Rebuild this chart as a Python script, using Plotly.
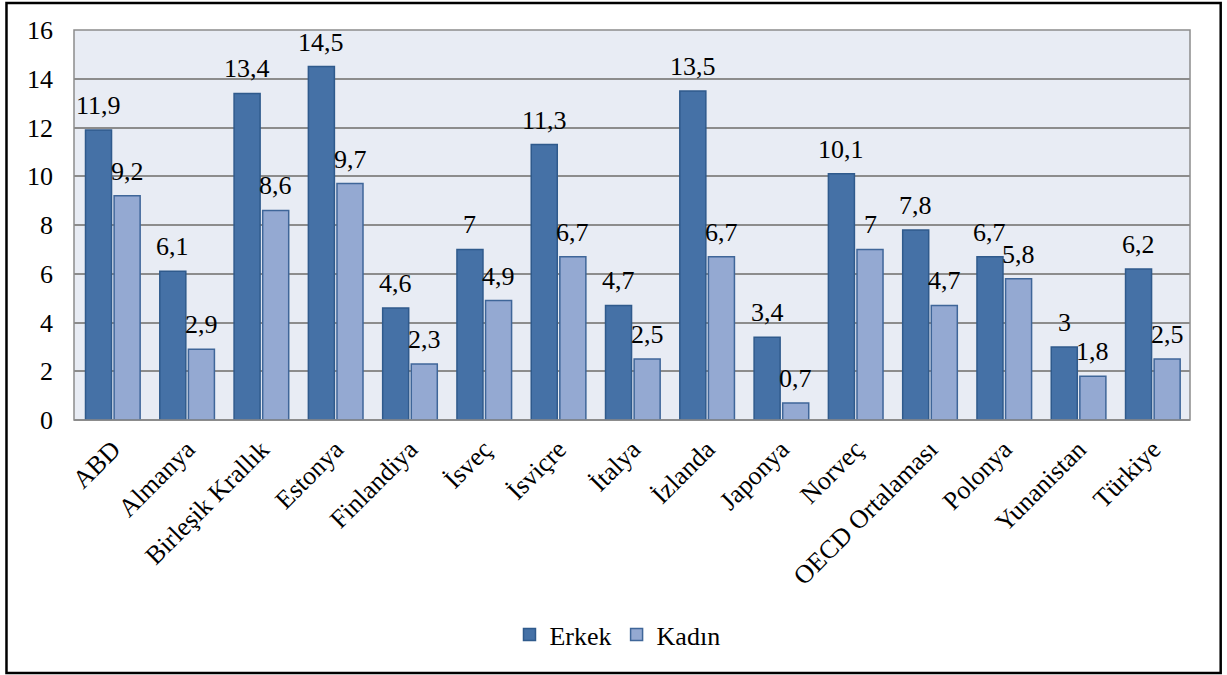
import plotly.graph_objects as go

categories = ["ABD", "Almanya", "Birleşik Krallık", "Estonya", "Finlandiya", "İsveç",
              "İsviçre", "İtalya", "İzlanda", "Japonya", "Norveç", "OECD Ortalaması",
              "Polonya", "Yunanistan", "Türkiye"]
erkek = [11.9, 6.1, 13.4, 14.5, 4.6, 7, 11.3, 4.7, 13.5, 3.4, 10.1, 7.8, 6.7, 3, 6.2]
kadin = [9.2, 2.9, 8.6, 9.7, 2.3, 4.9, 6.7, 2.5, 6.7, 0.7, 7, 4.7, 5.8, 1.8, 2.5]
y_ticks = [0, 2, 4, 6, 8, 10, 12, 14, 16]


def fmt(v):
    s = ("%g" % v)
    return s.replace(".", ",")


FONT = "Liberation Serif"
FS = 26
W, H = 1227, 675
ML, MR, MT, MB = 74, 37, 30, 255
BARGAP = 0.23

fig = go.Figure()
fig.add_trace(go.Bar(
    name="Erkek", x=categories, y=erkek,
    marker=dict(color="#4571A6", line=dict(color="#2F5A8C", width=1.5)),
))
fig.add_trace(go.Bar(
    name="Kadın", x=categories, y=kadin,
    marker=dict(color="#94A9D2", line=dict(color="#3F6699", width=1.5)),
))

# data labels above each bar
cat_px = (W - ML - MR) / len(categories)
off = cat_px * (1 - BARGAP) / 4
annotations = []
for series, sign in ((erkek, -1), (kadin, 1)):
    for c, v in zip(categories, series):
        annotations.append(dict(
            x=c, y=v, xref="x", yref="y", text=fmt(v), showarrow=False,
            xanchor="center", yanchor="bottom", xshift=sign * off, yshift=8,
            font=dict(family=FONT, size=FS, color="#000000"),
        ))

fig.update_layout(
    width=W, height=H,
    margin=dict(l=ML, r=MR, t=MT, b=MB),
    paper_bgcolor="#FFFFFF",
    plot_bgcolor="#E8ECF4",
    barmode="group",
    bargap=BARGAP,
    bargroupgap=0.09,
    font=dict(family=FONT, size=FS, color="#000000"),
    showlegend=True,
    legend=dict(orientation="h", x=0.487, xanchor="center", y=-0.55, yanchor="middle",
                font=dict(family=FONT, size=FS, color="#000000"), traceorder="normal",
                itemwidth=30),
    xaxis=dict(tickangle=-45, tickfont=dict(family=FONT, size=FS, color="#000000"),
               showgrid=False, showline=False, ticks="", ticklabelstandoff=8),
    yaxis=dict(range=[0, 16], tickvals=y_ticks, ticktext=[str(t) for t in y_ticks],
               showgrid=True, gridcolor="#8C8C8C", gridwidth=1.5,
               zeroline=True, zerolinecolor="#8C8C8C", zerolinewidth=2,
               showline=False, ticks="", ticklabelstandoff=20,
               tickfont=dict(family=FONT, size=FS, color="#000000")),
    annotations=annotations,
    shapes=[
        dict(type="rect", xref="paper", yref="paper", x0=-0.0605, x1=1.0275, y0=-0.6487, y1=1.069,
             line=dict(color="#000000", width=2.5), fillcolor="rgba(0,0,0,0)", layer="below"),
        dict(type="rect", xref="paper", yref="paper", x0=0, x1=1, y0=0, y1=1,
             line=dict(color="#8C8C8C", width=1.5), fillcolor="rgba(0,0,0,0)", layer="above"),
    ],
)

fig.write_html("out.html", config={"displayModeBar": False},
               post_script="document.body.style.margin='0';")
